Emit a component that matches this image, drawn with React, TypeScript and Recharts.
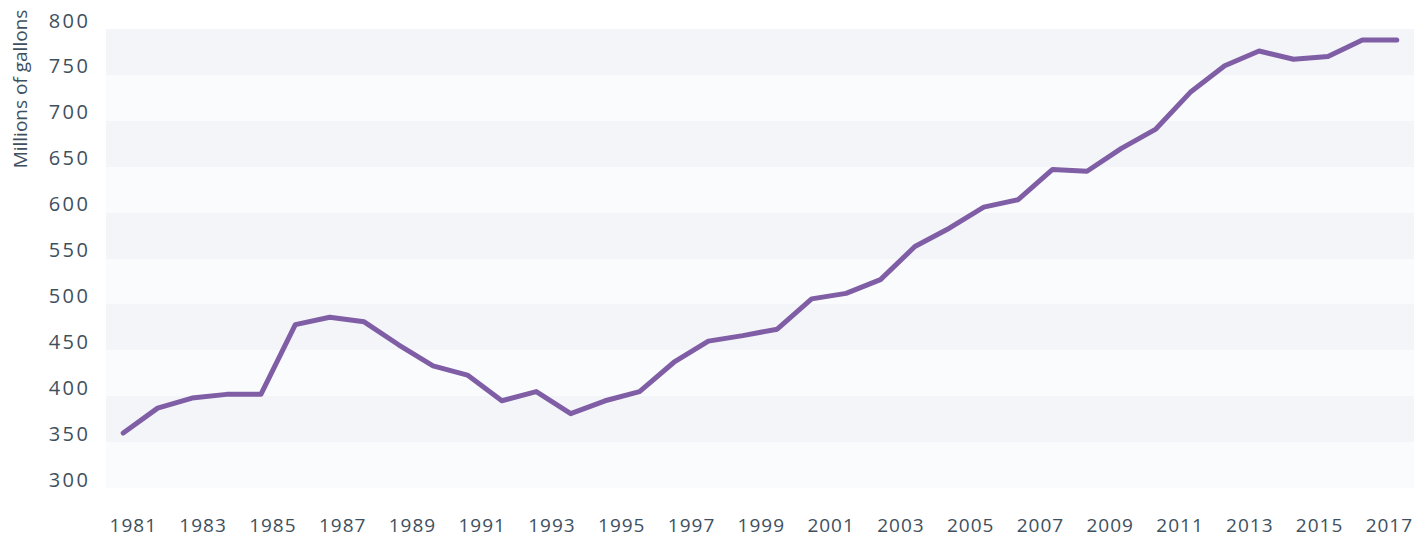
import React from 'react';
import { LineChart, Line, XAxis, YAxis, CartesianGrid } from 'recharts';

const years = [
  1980, 1981, 1982, 1983, 1984, 1985, 1986, 1987, 1988, 1989,
  1990, 1991, 1992, 1993, 1994, 1995, 1996, 1997, 1998, 1999,
  2000, 2001, 2002, 2003, 2004, 2005, 2006, 2007, 2008, 2009,
  2010, 2011, 2012, 2013, 2014, 2015, 2016, 2017,
];

const gallons = [
  360, 387, 398, 402, 402, 478, 486, 481, 456, 433,
  423, 395, 405, 381, 395, 405, 437, 460, 466, 473,
  506, 512, 527, 563, 583, 606, 614, 647, 645, 670,
  691, 731, 760, 776, 767, 770, 788, 788,
];

const xTickLabels = [
  1981, 1983, 1985, 1987, 1989, 1991, 1993, 1995, 1997, 1999,
  2001, 2003, 2005, 2007, 2009, 2011, 2013, 2015, 2017,
];

const yTickValues = [300, 350, 400, 450, 500, 550, 600, 650, 700, 750, 800];

const data = years.map((year, i) => ({ year, value: gallons[i] }));

const TEXT = '#3e5060';
const FONT = "'Open Sans', 'Noto Sans', sans-serif";

const YTick = (props: any) => {
  const { x, y, payload } = props;
  return (
    <text
      x={x - 15.5}
      y={y - 1.5}
      textAnchor="end"
      fill={TEXT}
      fontSize={20}
      fontFamily={FONT}
      letterSpacing={2.5}
    >
      {payload.value}
    </text>
  );
};

const XTick = (props: any) => {
  const { x, y, payload } = props;
  return (
    <text
      x={x + 0.5}
      y={y + 43.5}
      textAnchor="middle"
      fill={TEXT}
      fontSize={19}
      fontFamily={FONT}
      letterSpacing={1}
    >
      {payload.value}
    </text>
  );
};

const YTitle = () => (
  <text
    transform="rotate(-90)"
    x={-89}
    y={26.5}
    textAnchor="middle"
    fill={TEXT}
    fontSize={19}
    fontFamily={FONT}
  >
    Millions of gallons
  </text>
);

export default function App() {
  return (
    <div style={{ position: 'absolute', left: 0, top: 0, width: 1427, height: 537, background: '#ffffff' }}>
      <LineChart
        width={1427}
        height={537}
        data={data}
        margin={{ top: 29, right: 13, bottom: 0, left: 0 }}
      >
        <CartesianGrid
          vertical={false}
          stroke="transparent"
          horizontalFill={['#f4f5f9', '#fafbfc']}
          fillOpacity={1}
        />
        <XAxis
          xAxisId={0}
          dataKey="year"
          type="number"
          domain={[1980.232, 2017.72]}
          allowDataOverflow
          ticks={xTickLabels}
          interval={0}
          height={49}
          axisLine={false}
          tickLine={false}
          tickSize={0}
          tickMargin={0}
          tick={<XTick />}
        />
        <XAxis xAxisId="line" dataKey="year" type="category" scale="band" hide />
        <YAxis
          type="number"
          domain={[300, 800]}
          ticks={yTickValues}
          interval={0}
          width={106}
          axisLine={false}
          tickLine={false}
          tickSize={0}
          tickMargin={0}
          tick={<YTick />}
          label={<YTitle />}
        />
        <Line
          xAxisId="line"
          type="linear"
          dataKey="value"
          stroke="#7f5ea6"
          strokeWidth={5}
          strokeLinecap="round"
          strokeLinejoin="round"
          dot={false}
          activeDot={false}
          isAnimationActive={false}
        />
      </LineChart>
    </div>
  );
}
